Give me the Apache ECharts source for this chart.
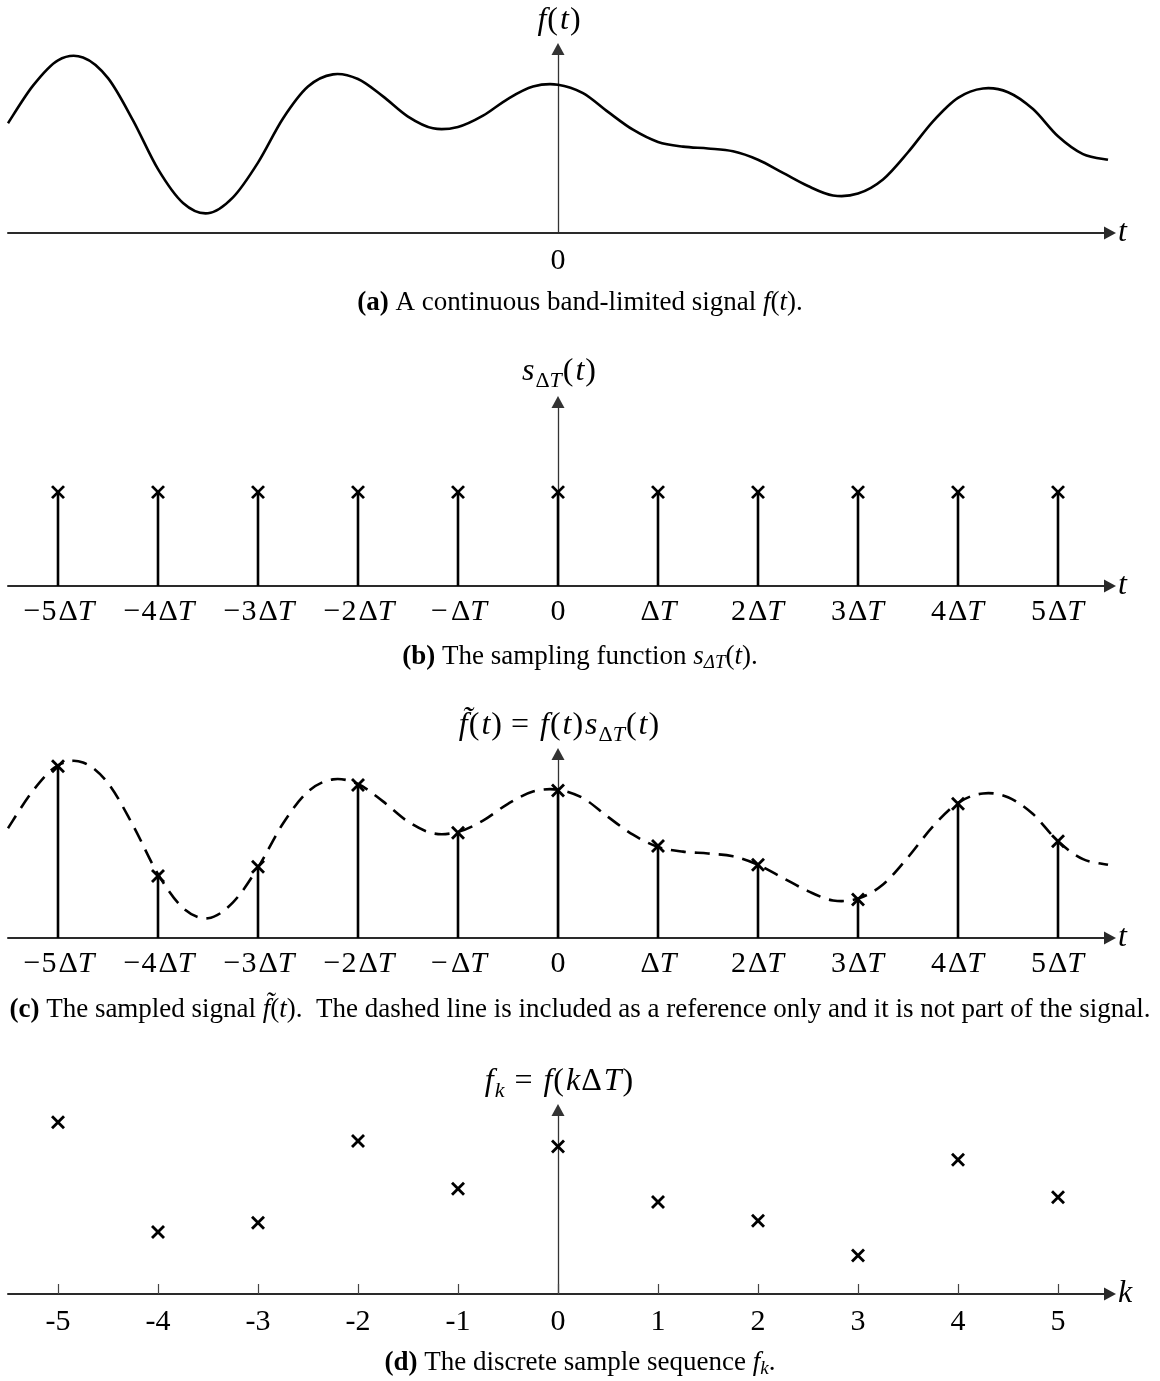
<!DOCTYPE html>
<html>
<head>
<meta charset="utf-8">
<script src="https://cdn.jsdelivr.net/npm/echarts@6/dist/echarts.min.js"></script>
<style>
  html, body { margin: 0; padding: 0; background: #ffffff; }
  #chart { width: 1160px; height: 1381px; }
</style>
</head>
<body>
<div id="chart"></div>
<script>
// Continuous band-limited signal f(t); t in units of the sampling step ΔT
const signalT = [-5.5, -5.25, -5.0, -4.75, -4.5, -4.25, -4.0, -3.75, -3.5, -3.25,
  -3.0, -2.75, -2.5, -2.25, -2.0, -1.75, -1.5, -1.25, -1.0, -0.75,
  -0.5, -0.25, 0, 0.25, 0.5, 0.75, 1.0, 1.25, 1.5, 1.75,
  2.0, 2.25, 2.5, 2.75, 3.0, 3.25, 3.5, 3.75, 4.0, 4.25,
  4.5, 4.75, 5.0, 5.25, 5.5];
const signalF = [1.17, 1.57, 1.84, 1.87, 1.65, 1.20, 0.68, 0.32, 0.21, 0.38,
  0.75, 1.22, 1.56, 1.69, 1.64, 1.455, 1.24, 1.115, 1.13, 1.25,
  1.43, 1.56, 1.58, 1.49, 1.29, 1.10, 0.97, 0.92, 0.90, 0.87,
  0.78, 0.64, 0.50, 0.40, 0.42, 0.57, 0.86, 1.19, 1.44, 1.54,
  1.50, 1.32, 1.03, 0.84, 0.78];

// Sample indices k and the samples f_k = f(kΔT)
const sampleK = [-5, -4, -3, -2, -1, 0, 1, 2, 3, 4, 5];
const sampleF = [1.83, 0.66, 0.76, 1.63, 1.12, 1.57, 0.98, 0.78, 0.41, 1.43, 1.03];
// Sampling comb s_ΔT(t): unit impulses
const combF = [1, 1, 1, 1, 1, 1, 1, 1, 1, 1, 1];

// Tick labels
const tickLabelsT = ['−5ΔT', '−4ΔT', '−3ΔT', '−2ΔT', '−ΔT', '0', 'ΔT', '2ΔT', '3ΔT', '4ΔT', '5ΔT'];
const tickLabelsK = ['-5', '-4', '-3', '-2', '-1', '0', '1', '2', '3', '4', '5'];

const SERIF = '"Liberation Serif", "Times New Roman", serif';
const INK = '#000000';
const AXIS_INK = '#2a2a2a';

const X_MIN = -5.5, X_MAX = 5.52, Y_MAX = 1.96;
const GRID_LEFT = 8, GRID_W = 1102, GRID_H = 184;
const gridTops = [49, 402, 754, 1110];

function style(extra) { return Object.assign({ fontFamily: SERIF, color: INK }, extra); }

// math-style text for the axis names
const nameRich = {
  r: style({ fontSize: 32 }),
  p: style({ fontSize: 32 }),
  i: style({ fontSize: 32, fontStyle: 'italic', padding: [0, 1, 0, 2] }),
  eq: style({ fontSize: 32, padding: [0, 9, 0, 9] }),
  sr: style({ fontSize: 22, padding: [18, 0, 0, 0] }),
  si: style({ fontSize: 22, fontStyle: 'italic', padding: [18, 1, 0, 0] })
};
// tick labels
const tickRich = {
  r: style({ fontSize: 30 }),
  m: style({ fontSize: 30, padding: [0, 1, 0, 3] }),
  d: style({ fontSize: 30, padding: [0, 0, 0, 2] }),
  i: style({ fontSize: 30, fontStyle: 'italic', padding: [0, 1, 0, 0] })
};

function toMath(label) {
  let out = '';
  for (const ch of label) {
    if (ch === '−') out += '{m|−}';
    else if (ch === 'Δ') out += '{d|Δ}';
    else if (ch === 'T') out += '{i|T}';
    else out += '{r|' + ch + '}';
  }
  return out;
}

const yNames = [
  '{i|f}{p|(}{i|t}{p|)}',
  '{i|s}{sr|Δ}{si|T}{p|(}{i|t}{p|)}',
  '{i|f\u0303}{p|(}{i|t}{p|)}{eq|=}{i|f}{p|(}{i|t}{p|)}{i|s}{sr|Δ}{si|T}{p|(}{i|t}{p|)}',
  '{i|f}{si|k}{eq|=}{i|f}{p|(}{i|k}{r|Δ}{i|T}{p|)}'
];
const yNameGaps = [12, 10, 8, 8];
const xNames = ['{i|t}', '{i|t}', '{i|t}', '{i|k}'];

const grids = gridTops.map(top => ({
  left: GRID_LEFT, top: top, width: GRID_W, height: GRID_H, containLabel: false
}));

const xAxes = gridTops.map((_, g) => ({
  type: 'value', gridIndex: g, min: X_MIN, max: X_MAX,
  name: xNames[g], nameLocation: 'end', nameGap: 6,
  nameTextStyle: { rich: nameRich, verticalAlign: 'middle', align: 'left' },
  axisLine: {
    show: true, onZero: true,
    symbol: ['none', 'triangle'], symbolSize: [13, 12],
    lineStyle: { color: AXIS_INK, width: 2 }
  },
  axisTick: g === 3
    ? { show: true, inside: true, length: 10, customValues: sampleK, lineStyle: { color: '#444', width: 1.2 } }
    : { show: false },
  axisLabel: {
    show: true,
    customValues: g === 0 ? [0] : sampleK,
    margin: g === 0 || g === 3 ? 13 : 11,
    rich: tickRich,
    formatter: function (v) {
      const i = sampleK.indexOf(Math.round(v));
      if (g === 3) return '{r|' + tickLabelsK[i] + '}';
      return toMath(tickLabelsT[i]);
    }
  },
  splitLine: { show: false }
}));

const yAxes = gridTops.map((_, g) => ({
  type: 'value', gridIndex: g, min: 0, max: Y_MAX,
  name: yNames[g], nameLocation: 'end', nameGap: yNameGaps[g],
  nameTextStyle: { rich: nameRich, align: 'center' },
  axisLine: {
    show: true, onZero: true,
    symbol: ['none', 'triangle'], symbolSize: [13, 12],
    lineStyle: { color: '#333333', width: 1.3 }
  },
  axisTick: { show: false },
  axisLabel: { show: false },
  splitLine: { show: false }
}));

const CROSS = 6;
function crossShapes(p) {
  const st = { stroke: INK, lineWidth: 2.8 };
  return [
    { type: 'line', shape: { x1: p[0] - CROSS, y1: p[1] - CROSS, x2: p[0] + CROSS, y2: p[1] + CROSS }, style: st },
    { type: 'line', shape: { x1: p[0] - CROSS, y1: p[1] + CROSS, x2: p[0] + CROSS, y2: p[1] - CROSS }, style: st }
  ];
}
function stemItem(params, api) {
  const x = api.value(0), y = api.value(1);
  const b = api.coord([x, 0]);
  const t = api.coord([x, y]);
  return {
    type: 'group',
    children: [{ type: 'line', shape: { x1: b[0], y1: b[1], x2: t[0], y2: t[1] }, style: { stroke: INK, lineWidth: 2.6 } }]
      .concat(crossShapes(t))
  };
}
function crossItem(params, api) {
  const t = api.coord([api.value(0), api.value(1)]);
  return { type: 'group', children: crossShapes(t) };
}

// Smooth curve through the signal points: Catmull-Rom spline drawn as cubic
// Bezier segments in pixel space (points mapped through the axes with api.coord).
function curveItem(dashed) {
  return function (params, api) {
    if (params.dataIndex !== 0) return null;
    const pts = [];
    for (let i = 0; i < signalT.length; i++) pts.push(api.coord([signalT[i], signalF[i]]));
    let d = 'M' + pts[0][0].toFixed(2) + ' ' + pts[0][1].toFixed(2);
    for (let i = 0; i < pts.length - 1; i++) {
      const p0 = pts[Math.max(i - 1, 0)], p1 = pts[i], p2 = pts[i + 1], p3 = pts[Math.min(i + 2, pts.length - 1)];
      const c1x = p1[0] + (p2[0] - p0[0]) / 6, c1y = p1[1] + (p2[1] - p0[1]) / 6;
      const c2x = p2[0] - (p3[0] - p1[0]) / 6, c2y = p2[1] - (p3[1] - p1[1]) / 6;
      d += ' C' + [c1x, c1y, c2x, c2y, p2[0], p2[1]].map(v => v.toFixed(2)).join(' ');
    }
    return {
      type: 'path',
      shape: { pathData: d },
      style: { fill: null, stroke: INK, lineWidth: 2.6, lineDash: dashed ? [15, 9] : null }
    };
  };
}

const signalData = signalT.map((t, i) => [t, signalF[i]]);
const sampleData = sampleK.map((k, i) => [k, sampleF[i]]);
const combData = sampleK.map((k, i) => [k, combF[i]]);

const series = [
  { type: 'custom', xAxisIndex: 0, yAxisIndex: 0, data: signalData, renderItem: curveItem(false), z: 3 },
  { type: 'custom', xAxisIndex: 1, yAxisIndex: 1, data: combData, renderItem: stemItem, z: 3 },
  { type: 'custom', xAxisIndex: 2, yAxisIndex: 2, data: signalData, renderItem: curveItem(true), z: 3 },
  { type: 'custom', xAxisIndex: 2, yAxisIndex: 2, data: sampleData, renderItem: stemItem, z: 4 },
  { type: 'custom', xAxisIndex: 3, yAxisIndex: 3, data: sampleData, renderItem: crossItem, z: 4 }
];

const capRich = {
  b: style({ fontSize: 27, fontWeight: 'bold' }),
  r: style({ fontSize: 27 }),
  i: style({ fontSize: 27, fontStyle: 'italic' }),
  s: style({ fontSize: 19, fontStyle: 'italic', padding: [12, 0, 0, 0] })
};
const captions = [
  '{b|(a)}{r| A continuous band-limited signal }{i|f}{r|(}{i|t}{r|).}',
  '{b|(b)}{r| The sampling function }{i|s}{s|ΔT}{r|(}{i|t}{r|).}',
  '{b|(c)}{r| The sampled signal }{i|f\u0303}{r|(}{i|t}{r|).  The dashed line is included as a reference only and it is not part of the signal.}',
  '{b|(d)}{r| The discrete sample sequence }{i|f}{s|k}{r|.}'
];
const captionY = [303, 657, 1010, 1363];

const chart = echarts.init(document.getElementById('chart'), null, { renderer: 'canvas' });
chart.setOption({
  backgroundColor: '#ffffff',
  animation: false,
  grid: grids,
  xAxis: xAxes,
  yAxis: yAxes,
  series: series,
  graphic: captions.map((txt, i) => ({
    type: 'text', x: 580, y: captionY[i],
    style: { text: txt, rich: capRich, align: 'center', verticalAlign: 'middle',
      fontFamily: SERIF, fontSize: 27, fill: INK }
  }))
});
</script>
</body>
</html>
